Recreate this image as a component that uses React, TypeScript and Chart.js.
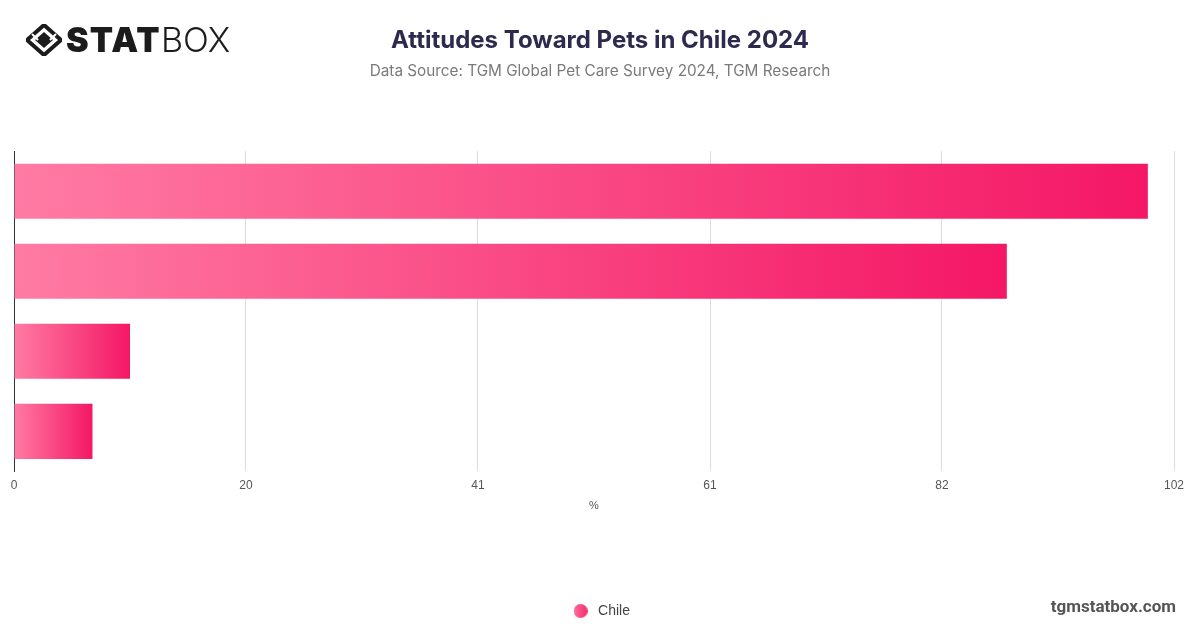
import React, { useEffect, useRef } from "react";
import { Chart, registerables } from "chart.js";

Chart.register(...registerables);

const categories = [
  "Attitude 1",
  "Attitude 2",
  "Attitude 3",
  "Attitude 4",
];
const seriesName = "Chile";
const chileValues = [99.7, 87.3, 10.2, 6.9];
const tickValues = [0, 20.4, 40.8, 61.2, 81.6, 102];

const TITLE = "Attitudes Toward Pets in Chile 2024";
const SUBTITLE = "Data Source: TGM Global Pet Care Survey 2024, TGM Research";

function makeLegendDot(): HTMLCanvasElement {
  const c = document.createElement("canvas");
  c.width = 14;
  c.height = 14;
  const g = c.getContext("2d")!;
  const grad = g.createLinearGradient(0, 0, 14, 0);
  grad.addColorStop(0, "#ff6f9c");
  grad.addColorStop(1, "#f52a6e");
  g.fillStyle = grad;
  g.beginPath();
  g.arc(7, 7, 7, 0, Math.PI * 2);
  g.fill();
  return c;
}

export default function App() {
  const ref = useRef<HTMLCanvasElement | null>(null);

  useEffect(() => {
    document.body.style.margin = "0";
    const canvas = ref.current;
    if (!canvas) return;
    const dot = makeLegendDot();
    const chart = new Chart(canvas, {
      type: "bar",
      data: {
        labels: categories,
        datasets: [
          {
            label: seriesName,
            data: chileValues,
            backgroundColor: (ctx: any) => {
              const c = ctx.chart;
              if (!c.chartArea || ctx.type !== "data") return "#f8467f";
              const xs = c.scales.x;
              const x0 = xs.getPixelForValue(0);
              const x1 = xs.getPixelForValue(ctx.raw as number);
              const g = c.ctx.createLinearGradient(x0, 0, Math.max(x1, x0 + 1), 0);
              g.addColorStop(0, "#ff7ba4");
              g.addColorStop(1, "#f41765");
              return g;
            },
            borderWidth: 0,
            barPercentage: 0.6875,
            categoryPercentage: 1,
          },
        ],
      },
      options: {
        indexAxis: "y",
        animation: false,
        responsive: false,
        maintainAspectRatio: false,
        layout: { padding: { left: 0, right: 0, top: 0, bottom: 0 } },
        scales: {
          x: {
            min: 0,
            max: 102,
            afterBuildTicks: (axis: any) => {
              axis.ticks = tickValues.map((v) => ({ value: v }));
            },
            ticks: {
              callback: (v: any) => String(Math.round(Number(v))),
              color: "#555",
              font: { family: "Liberation Sans, Arial, sans-serif", size: 12 },
              padding: 7,
              maxRotation: 0,
            },
            grid: { color: "#dcdcdc", drawTicks: false, lineWidth: 1 },
            border: { display: false },
            title: {
              display: true,
              text: "%",
              color: "#555",
              font: { family: "Liberation Sans, Arial, sans-serif", size: 11 },
              padding: { top: 0, bottom: 81 },
            },
          },
          y: {
            ticks: { display: false },
            grid: { display: false, drawTicks: false },
            border: { display: true, color: "#333", width: 1 },
            afterFit: (s: any) => {
              s.width = 14;
            },
          },
          yRight: {
            axis: "y",
            type: "category",
            position: "right",
            display: true,
            ticks: { display: false },
            grid: { display: false, drawTicks: false },
            border: { display: false },
            afterFit: (s: any) => {
              s.width = 26;
            },
          },
        },
        plugins: {
          title: {
            display: true,
            text: TITLE,
            color: "#2e2a4d",
            font: { family: "Inter, sans-serif", size: 24, weight: "bold" },
            padding: { top: 26, bottom: 7 },
          },
          subtitle: {
            display: true,
            text: SUBTITLE,
            color: "#7a7a7a",
            font: { family: "Inter, sans-serif", size: 15.3, weight: "normal" },
            padding: { top: 0, bottom: 71 },
          },
          legend: {
            display: true,
            position: "bottom",
            labels: {
              usePointStyle: true,
              pointStyle: dot,
              pointStyleWidth: 21,
              boxHeight: 14,
              color: "#444",
              font: { family: "Liberation Sans, Arial, sans-serif", size: 14 },
              padding: 10,
            },
          },
          tooltip: { enabled: true },
        },
      } as any,
    });
    return () => chart.destroy();
  }, []);

  return (
    <div style={{ position: "relative", width: 1200, height: 628, background: "#fff" }}>
      <canvas ref={ref} width={1200} height={628} style={{ position: "absolute", left: 0, top: 0, width: 1200, height: 628 }} />
      <div style={{ position: "absolute", left: 26, top: 22, display: "flex", alignItems: "center", height: 36 }}>
        <svg width="36" height="32" viewBox="0 0 36 32" style={{ marginRight: 4 }}>
          <polygon points="18,1 35,16 18,31 1,16" fill="none" stroke="#1c1c1c" strokeWidth="4" />
          <polygon points="18,8 27,16 18,24 9,16" fill="#1c1c1c" />
          <line x1="6" y1="10" x2="12" y2="16" stroke="#fff" strokeWidth="2" />
          <line x1="30" y1="10" x2="24" y2="16" stroke="#fff" strokeWidth="2" />
        </svg>
        <span style={{ fontFamily: "Inter, sans-serif", fontWeight: 900, fontSize: 34, color: "#1c1c1c", letterSpacing: 1.2, lineHeight: "36px" }}>STAT</span>
        <span style={{ fontFamily: "Inter, sans-serif", fontWeight: 300, fontSize: 34, color: "#1c1c1c", letterSpacing: 0, lineHeight: "36px" }}>BOX</span>
      </div>
      <div style={{ position: "absolute", right: 24, top: 595, fontFamily: "Roboto, sans-serif", fontWeight: 700, fontSize: 17, color: "#555", lineHeight: "22px" }}>
        tgmstatbox.com
      </div>
    </div>
  );
}
